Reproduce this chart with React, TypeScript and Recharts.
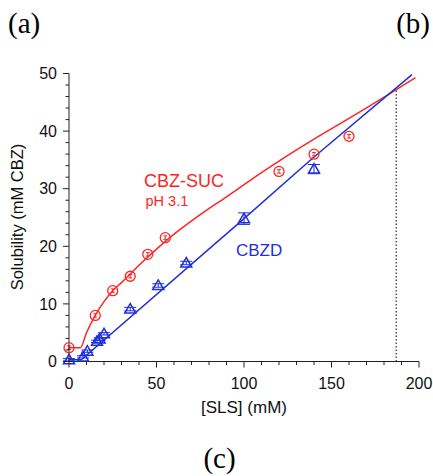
import React from "react";
import { ComposedChart, Line, Scatter, ErrorBar, XAxis, YAxis, ReferenceLine } from "recharts";

const RED = "#ff2424";
const BLUE = "#1f2fd8";
const SANS = "'Liberation Sans', Arial, sans-serif";
const SERIF = "'Liberation Serif', 'Times New Roman', serif";

// measured points, CBZ-SUC co-crystal (pH 3.1)
const sucX = [0, 15, 25, 35, 45, 55, 120, 140, 160];
const sucY = [2.4, 8.0, 12.3, 14.8, 18.6, 21.5, 33.0, 36.0, 39.1];
const sucErr = [0.3, 0.3, 0.3, 0.3, 0.3, 0.3, 0.3, 0.3, 0.3];

// measured points, CBZD
const cbzdX = [0, 8, 10.5, 16, 17.5, 20, 35, 51, 67, 100, 140];
const cbzdY = [0.3, 0.8, 1.8, 3.5, 3.9, 4.8, 9.1, 13.2, 17.1, 24.8, 33.4];
const cbzdErr = [0.2, 0.2, 0.2, 0.2, 0.2, 0.2, 0.3, 0.3, 0.3, 1.0, 0.8];

// model curves
const sucFitX = [0, 6.5, 10, 15, 20, 25, 30, 40, 50, 60, 75, 90, 100, 110, 120, 140, 160, 187, 198];
const sucFitY = [2.4, 2.4, 5.0, 8.0, 10.4, 12.3, 13.7, 16.7, 19.5, 22.1, 25.5, 28.6, 30.7, 32.8, 34.8, 38.6, 42.2, 47.2, 49.3];
const cbzdFitX = [0, 7, 100, 140, 196];
const cbzdFitY = [0.3, 0.3, 24.8, 35.5, 49.8];

const xTicks = [0, 10, 20, 30, 40, 50, 60, 70, 80, 90, 100, 110, 120, 130, 140, 150, 160, 170, 180, 190, 200];
const yTicks = [0, 2, 4, 6, 8, 10, 12, 14, 16, 18, 20, 22, 24, 26, 28, 30, 32, 34, 36, 38, 40, 42, 44, 46, 48, 50];
const crossX = 187;
const crossY = 47.2;

const sucPts = sucX.map((x, i) => ({ x, y: sucY[i], err: sucErr[i] }));
const cbzdPts = cbzdX.map((x, i) => ({ x, y: cbzdY[i], err: cbzdErr[i] }));
const sucFit = sucFitX.map((x, i) => ({ x, y: sucFitY[i] }));
const cbzdFit = cbzdFitX.map((x, i) => ({ x, y: cbzdFitY[i] }));

const XTick = (p: any) => {
  const major = p.payload.value % 50 === 0;
  return (
    <g>
      <line x1={p.x} x2={p.x} y1={p.y} y2={p.y + (major ? 6 : 3.5)} stroke="#222" strokeWidth={1} />
      {major && (
        <text x={p.x} y={p.y + 27} textAnchor="middle" fontSize={16} fontFamily={SANS} fill="#111">
          {p.payload.value}
        </text>
      )}
    </g>
  );
};

const YTick = (p: any) => {
  const major = p.payload.value % 10 === 0;
  return (
    <g>
      <line x1={p.x} x2={p.x - (major ? 6 : 3.5)} y1={p.y} y2={p.y} stroke="#222" strokeWidth={1} />
      {major && (
        <text x={p.x - 12} y={p.y} dy="0.36em" textAnchor="end" fontSize={16} fontFamily={SANS} fill="#111">
          {p.payload.value}
        </text>
      )}
    </g>
  );
};

const Ring = (p: any) => <circle cx={p.cx} cy={p.cy} r={5} fill="none" stroke={RED} strokeWidth={1.3} />;

const Tri = (p: any) => (
  <polygon
    points={`${p.cx},${p.cy - 5.5} ${p.cx - 5.5},${p.cy + 4} ${p.cx + 5.5},${p.cy + 4}`}
    fill="none"
    stroke={BLUE}
    strokeWidth={1.5}
  />
);

export default function App() {
  return (
    <div style={{ position: "absolute", left: 0, top: 0, width: 433, height: 476, background: "#fff" }}>
      <ComposedChart width={433} height={476} margin={{ top: 73.5, right: 14, bottom: 74.5, left: 9 }}>
        <XAxis
          type="number"
          dataKey="x"
          domain={[0, 200]}
          ticks={xTicks}
          interval={0}
          height={40}
          tickSize={0}
          tickMargin={0}
          tick={<XTick />}
          axisLine={{ stroke: "#222" }}
          tickLine={false}
        />
        <YAxis
          type="number"
          dataKey="y"
          domain={[0, 50]}
          ticks={yTicks}
          interval={0}
          width={60}
          tickSize={0}
          tickMargin={0}
          tick={<YTick />}
          axisLine={{ stroke: "#222" }}
          tickLine={false}
        />
        <ReferenceLine
          segment={[{ x: crossX, y: 0 }, { x: crossX, y: crossY }]}
          stroke="#555"
          strokeWidth={1.5}
          strokeDasharray="1.5 2"
        />
        <Line data={sucFit} dataKey="y" type="monotone" stroke={RED} strokeWidth={1.5} dot={false} isAnimationActive={false} />
        <Line data={cbzdFit} dataKey="y" type="linear" stroke={BLUE} strokeWidth={1.5} dot={false} isAnimationActive={false} />
        <Scatter data={sucPts} dataKey="y" shape={<Ring />} isAnimationActive={false}>
          <ErrorBar dataKey="err" direction="y" width={2} stroke={RED} strokeWidth={1} />
        </Scatter>
        <Scatter data={cbzdPts} dataKey="y" shape={<Tri />} isAnimationActive={false}>
          <ErrorBar dataKey="err" direction="y" width={6} stroke={BLUE} strokeWidth={1} />
        </Scatter>
        <text x={17} y={217} transform="rotate(-90 17 217)" textAnchor="middle" dy="0.35em" fontSize={16.5} fontFamily={SANS} fill="#111">
          Solubility (mM CBZ)
        </text>
        <text x={244} y={413} textAnchor="middle" fontSize={17} fontFamily={SANS} fill="#111">
          [SLS] (mM)
        </text>
        <text x={144} y={187} fontSize={18} fontFamily={SANS} fill={RED}>CBZ-SUC</text>
        <text x={145.5} y={206} fontSize={14.5} fontFamily={SANS} fill={RED}>pH 3.1</text>
        <text x={236} y={256} fontSize={17} fontFamily={SANS} fill={BLUE}>CBZD</text>
        <text x={8} y={33} fontSize={29} fontFamily={SERIF} fill="#000">(a)</text>
        <text x={430} y={33} textAnchor="end" fontSize={29} fontFamily={SERIF} fill="#000">(b)</text>
        <text x={219.5} y={468} textAnchor="middle" fontSize={29} fontFamily={SERIF} fill="#000">(c)</text>
      </ComposedChart>
    </div>
  );
}
